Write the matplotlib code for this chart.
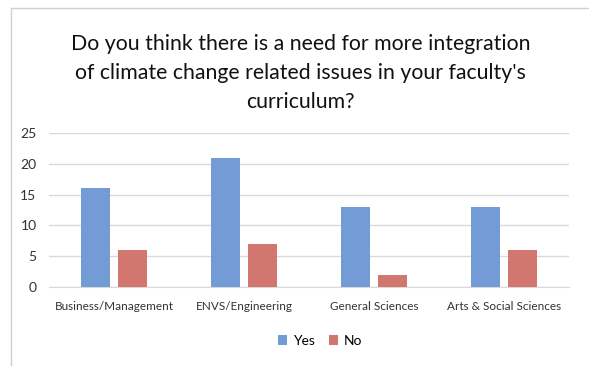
import matplotlib.pyplot as plt
import numpy as np
from matplotlib.lines import Line2D

plt.rcParams['font.family'] = ['Lato', 'DejaVu Sans']

categories = ["Business/Management", "ENVS/Engineering", "General Sciences", "Arts & Social Sciences"]
yes_values = [16, 21, 13, 13]
no_values = [6, 7, 2, 6]
yticks = [0, 5, 10, 15, 20, 25]

blue = "#739BD5"
red = "#D27770"

fig = plt.figure(figsize=(5.89, 3.66), dpi=100)
ax = fig.add_axes([49 / 589, 1 - 287 / 366, 520 / 589, 154 / 366])

x = np.arange(len(categories))
w = 0.22
ax.bar(x - 0.143, yes_values, w, color=blue, label="Yes", zorder=3)
ax.bar(x + 0.143, no_values, w, color=red, label="No", zorder=3)

ax.set_xlim(-0.5, len(categories) - 0.5)
ax.set_ylim(0, 25)
ax.set_yticks(yticks)
ax.set_xticks(x)
ax.set_xticklabels(categories)
ax.tick_params(axis="both", length=0, colors="#333333")
ax.tick_params(axis="x", pad=10, labelsize=8.5)
ax.tick_params(axis="y", pad=9, labelsize=10)
ax.grid(axis="y", color="#D9D9D9", linewidth=1, zorder=0)
for s in ["top", "right", "left"]:
    ax.spines[s].set_visible(False)
ax.spines["bottom"].set_color("#D9D9D9")

fig.text(0.51, 1 - 73 / 366, "Do you think there is a need for more integration\n"
         "of climate change related issues in your faculty's\ncurriculum?",
         ha="center", va="center", fontsize=15.3, linespacing=1.55, color="#111111")

fig.legend(loc="center", bbox_to_anchor=(320 / 589, 1 - 341 / 366), ncol=2, frameon=False,
           fontsize=10, handlelength=0.7, handleheight=0.7, columnspacing=1.0, handletextpad=0.4)

# chart frame
fig.add_artist(Line2D([11 / 589, 11 / 589], [0, 1 - 8 / 366], color="#D0D0D0", linewidth=1))
fig.add_artist(Line2D([11 / 589, 1], [1 - 8 / 366, 1 - 8 / 366], color="#D0D0D0", linewidth=1))

fig.savefig("out.png", dpi=100)
